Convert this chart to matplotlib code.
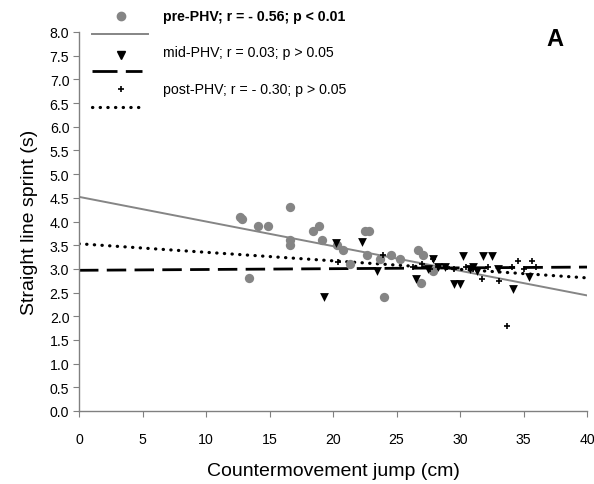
import matplotlib
matplotlib.use("Agg")
import matplotlib.pyplot as plt
import numpy as np
from matplotlib.lines import Line2D

plt.rcParams['font.family'] = ['Liberation Sans', 'DejaVu Sans']

# ---- data ----
pre_x = [12.7, 12.8, 13.4, 14.1, 14.9, 16.6, 16.6, 16.6, 18.4, 18.9, 19.1, 20.3, 20.8,
         21.3, 22.5, 22.8, 22.7, 23.7, 24.0, 24.6, 25.3, 26.7, 27.1, 26.9, 27.9]
pre_y = [4.1, 4.05, 2.8, 3.9, 3.9, 4.3, 3.6, 3.5, 3.8, 3.9, 3.6, 3.5, 3.4,
         3.1, 3.8, 3.8, 3.3, 3.2, 2.4, 3.3, 3.2, 3.4, 3.3, 2.7, 2.95]

mid_x = [19.3, 20.2, 22.3, 23.5, 26.5, 27.9, 28.3, 28.8, 29.5, 30.0, 30.2, 30.8, 31.3,
         31.8, 32.5, 33.0, 34.2, 35.4, 27.5, 31.0]
mid_y = [2.4, 3.55, 3.57, 2.95, 2.78, 3.2, 3.05, 3.04, 2.68, 2.68, 3.27, 3.0, 2.95,
         3.27, 3.27, 3.0, 2.57, 2.83, 3.0, 3.05]

post_x = [20.4, 23.9, 26.3, 27.0, 27.6, 27.9, 28.3, 29.0, 29.5, 30.5, 31.0, 31.7, 32.2,
          33.1, 33.7, 34.1, 34.6, 35.0, 35.7, 36.0]
post_y = [3.15, 3.3, 3.05, 3.1, 3.0, 3.2, 3.05, 3.05, 3.0, 3.05, 3.0, 2.78, 3.05,
          2.75, 1.8, 3.05, 3.17, 3.0, 3.17, 3.05]

# fitted regression lines (intercept, slope)
pre_fit = (4.52, -0.052)
mid_fit = (2.97, 0.0017)
post_fit = (3.53, -0.018)

labels = ["pre-PHV; r = - 0.56; p < 0.01",
          "mid-PHV; r = 0.03; p > 0.05",
          "post-PHV; r = - 0.30; p > 0.05"]

xticks = [0, 5, 10, 15, 20, 25, 30, 35, 40]
yticks = [0.0, 0.5, 1.0, 1.5, 2.0, 2.5, 3.0, 3.5, 4.0, 4.5, 5.0, 5.5, 6.0, 6.5, 7.0, 7.5, 8.0]

GRAY = '#858585'
DASH = (7, 3)
DOT = (0.1, 2.3)

fig = plt.figure(figsize=(5.94, 4.85), dpi=100)
ax = fig.add_axes([79/594, 1-412/485, (587-79)/594, (412-33)/485])

xl = np.array([0, 40])
ax.plot(xl, pre_fit[0] + pre_fit[1]*xl, color=GRAY, lw=1.4, zorder=2)
ax.plot(xl, mid_fit[0] + mid_fit[1]*xl, color='black', lw=2.0, dashes=DASH, zorder=2)
ax.plot(xl, post_fit[0] + post_fit[1]*xl, color='black', lw=2.3, dashes=DOT,
        dash_capstyle='round', zorder=2)

ax.scatter(pre_x, pre_y, s=45, color=GRAY, marker='o', linewidths=0, zorder=3)
ax.scatter(mid_x, mid_y, s=40, color='black', marker='v', linewidths=0, zorder=4)
ax.scatter(post_x, post_y, s=22, color='black', marker='+', linewidths=1.2, zorder=5)

ax.set_xlim(0, 40)
ax.set_ylim(0, 8)
ax.set_xticks(xticks)
ax.set_xticklabels([str(t) for t in xticks])
ax.set_yticks(yticks)
ax.set_yticklabels([f"{t:.1f}" for t in yticks])
for s in ['top', 'right']:
    ax.spines[s].set_visible(False)
for s in ['left', 'bottom']:
    ax.spines[s].set_color('#808080')
    ax.spines[s].set_linewidth(1.0)
ax.tick_params(direction='out', length=4, width=0.8, color='#808080', labelsize=10.2)
ax.tick_params(axis='x', pad=11)
ax.tick_params(axis='y', pad=3)
ax.set_xlabel("Countermovement jump (cm)", fontsize=14, labelpad=12)
ax.set_ylabel("Straight line sprint (s)", fontsize=14, labelpad=8)

# legend drawn manually in figure pixel coordinates
def fx(px):
    return px / 594
def fy(py):
    return 1 - py / 485

fig.add_artist(Line2D([fx(121)], [fy(17)], marker='o', color=GRAY, ms=6, lw=0))
fig.add_artist(Line2D([fx(92), fx(148)], [fy(35), fy(35)], color=GRAY, lw=1.4))
fig.text(fx(163), fy(17), labels[0], fontsize=10.2, fontweight='bold', va='center')

fig.add_artist(Line2D([fx(121)], [fy(56)], marker='v', color='black', ms=6, lw=0))
fig.add_artist(Line2D([fx(92), fx(142)], [fy(72), fy(72)], color='black', lw=2.0, dashes=(9, 3)))
fig.text(fx(163), fy(53), labels[1], fontsize=10.2, va='center')

fig.add_artist(Line2D([fx(121)], [fy(90)], marker='+', color='black', ms=5, mew=1.2, lw=0))
fig.add_artist(Line2D([fx(92), fx(144)], [fy(108), fy(108)], color='black', lw=2.3,
                      dashes=DOT, dash_capstyle='round'))
fig.text(fx(163), fy(90), labels[2], fontsize=10.2, va='center')

fig.text(fx(555), fy(40), "A", fontsize=17, fontweight='bold', ha='center', va='center')

fig.savefig("out.png", dpi=100)
